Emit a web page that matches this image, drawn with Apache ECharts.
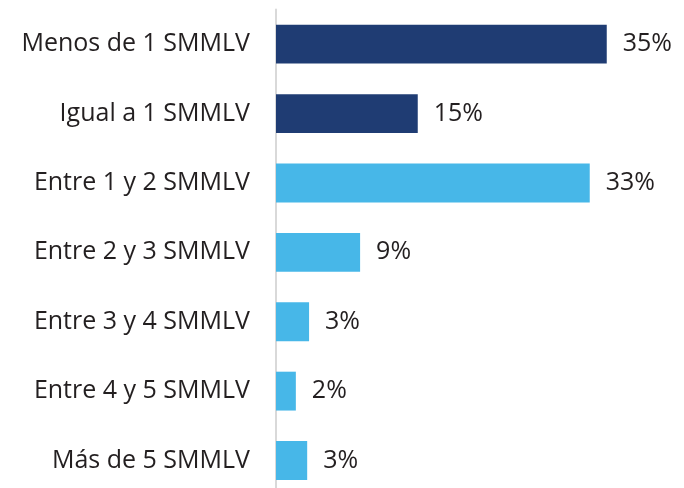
<!DOCTYPE html>
<html>
<head>
<meta charset="utf-8">
<script src="https://cdn.jsdelivr.net/npm/echarts@6/dist/echarts.min.js"></script>
<style>html,body{margin:0;padding:0;background:#fff;overflow:hidden}#c{width:684px;height:500px}</style>
</head>
<body>
<div id="c"></div>
<script>
const categories = ["Menos de 1 SMMLV","Igual a 1 SMMLV","Entre 1 y 2 SMMLV","Entre 2 y 3 SMMLV","Entre 3 y 4 SMMLV","Entre 4 y 5 SMMLV","Más de 5 SMMLV"];
const values = [35, 15, 33.2, 8.9, 3.5, 2.1, 3.3];
const labels = ["35%","15%","33%","9%","3%","2%","3%"];
const darkCount = 2;
const colorDark = "#1F3C73";
const colorLight = "#47B7E8";

const chart = echarts.init(document.getElementById('c'), null, {renderer:'canvas'});
chart.setOption({
  animation:false,
  grid:{left:276, right:30, top:9.5, bottom:4.8, containLabel:false},
  xAxis:{type:'value', min:0, max:40, show:false},
  yAxis:{type:'category', inverse:true, data:categories,
    axisLine:{show:true, lineStyle:{color:'#D9D9D9', width:2}},
    axisTick:{show:false},
    axisLabel:{margin:26, color:'#231F20', fontSize:25, fontFamily:'Open Sans'}
  },
  series:[{
    type:'bar', barWidth:'56%',
    data: values.map((v,i)=>({value:v, itemStyle:{color: i<darkCount?colorDark:colorLight}})),
    label:{show:true, position:'right', distance:16, color:'#231F20', fontSize:25, fontFamily:'Open Sans',
      formatter:p=>labels[p.dataIndex]}
  }]
});
</script>
</body>
</html>
